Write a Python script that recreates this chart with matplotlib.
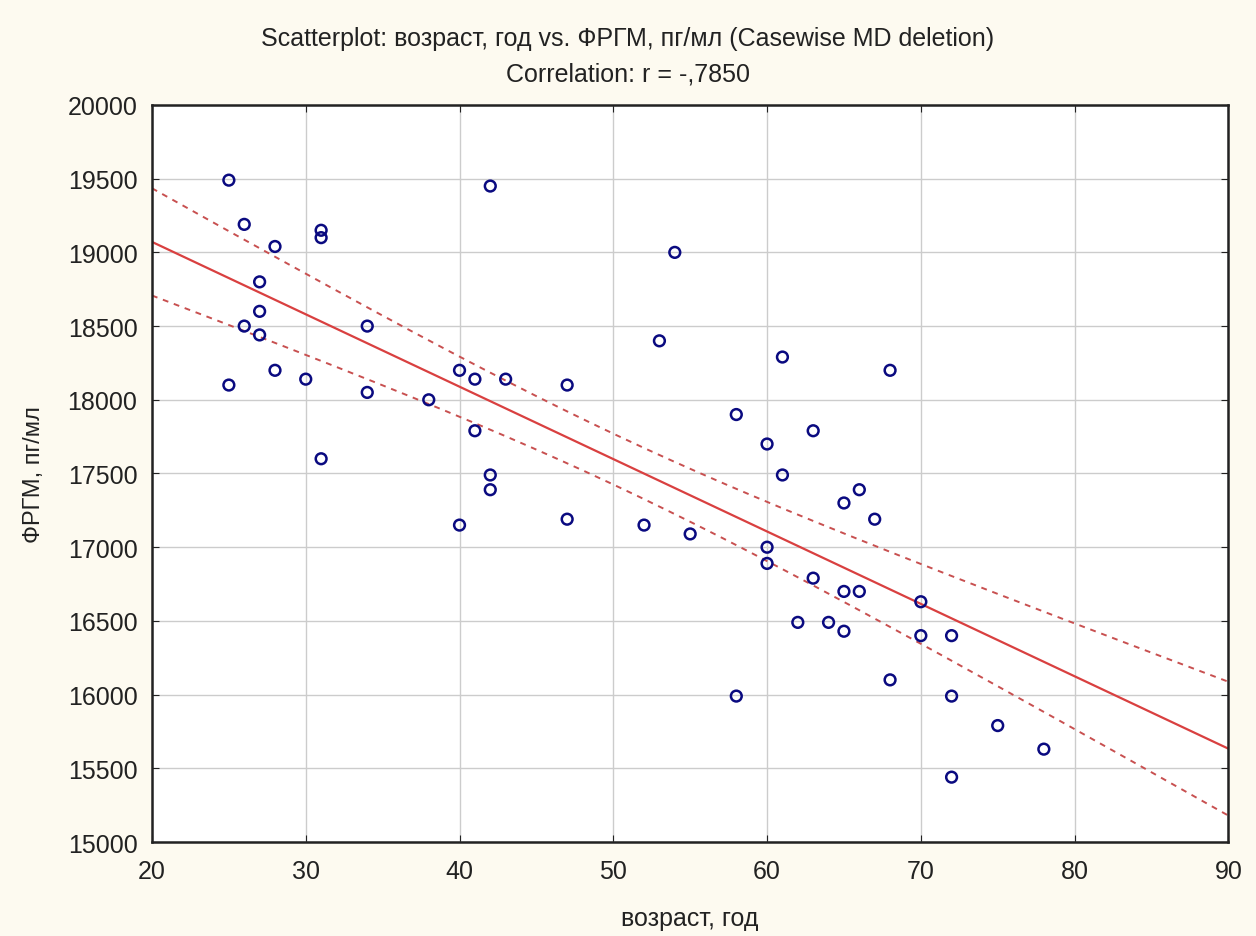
import numpy as np
import matplotlib
matplotlib.use('agg')
import matplotlib.pyplot as plt

# age (years) and FRGM (pg/ml)
age = [25, 26, 28, 31, 31, 27, 27, 26, 27, 34, 28, 30, 25, 34, 38, 31,
       42, 40, 41, 43, 47, 41, 42, 42, 40, 47, 52, 55, 54, 53,
       58, 58, 61, 60, 63, 61, 60, 60, 65, 66, 67, 68, 63, 65, 66,
       62, 64, 65, 70, 70, 72, 68, 72, 75, 78, 72]
frgm = [19490, 19190, 19040, 19150, 19100, 18800, 18600, 18500, 18440, 18500,
        18200, 18140, 18100, 18050, 18000, 17600,
        19450, 18200, 18140, 18140, 18100, 17790, 17490, 17390, 17150, 17190,
        17150, 17090, 19000, 18400,
        17900, 15990, 18290, 17700, 17790, 17490, 17000, 16890, 17300, 17390,
        17190, 18200, 16790, 16700, 16700, 16490, 16490, 16430, 16630, 16400,
        16400, 16100, 15990, 15790, 15630, 15440]

x_ticks = [20, 30, 40, 50, 60, 70, 80, 90]
y_ticks = [15000, 15500, 16000, 16500, 17000, 17500, 18000, 18500, 19000, 19500, 20000]
t_crit = 2.005  # 95%, df ~ 54

plt.rcParams['font.family'] = ['Liberation Sans', 'DejaVu Sans']

x = np.array(age, dtype=float)
y = np.array(frgm, dtype=float)
n = len(x)
slope, intercept = np.polyfit(x, y, 1)
r = np.corrcoef(x, y)[0, 1]
resid = y - (slope * x + intercept)
s_err = np.sqrt(np.sum(resid ** 2) / (n - 2))
xs = np.linspace(20, 90, 200)
ys = slope * xs + intercept
band = t_crit * s_err * np.sqrt(1 / n + (xs - x.mean()) ** 2 / np.sum((x - x.mean()) ** 2))

fig = plt.figure(figsize=(12.56, 9.37), dpi=100, facecolor='#fdfaf0')
ax = fig.add_axes([0.121, 0.1003, 0.857, 0.7866])
ax.set_facecolor('white')

ax.plot(xs, ys, color='#d94040', lw=1.6, zorder=2)
ax.plot(xs, ys + band, color='#c85050', lw=1.4, ls=(0, (3, 3)), zorder=2)
ax.plot(xs, ys - band, color='#c85050', lw=1.4, ls=(0, (3, 3)), zorder=2)
ax.scatter(x, y, s=60, facecolors='none', edgecolors='#0a0a80', linewidths=1.8, zorder=3)

ax.set_xlim(20, 90)
ax.set_ylim(15000, 20000)
ax.set_xticks(x_ticks)
ax.set_yticks(y_ticks)
ax.grid(True, color='#cccccc', lw=1.0)
ax.set_axisbelow(True)
ax.tick_params(direction='in', length=5, labelsize=18, colors='#222222')
ax.tick_params(axis='y', pad=10.5)
ax.tick_params(axis='x', pad=12)
ax.yaxis.set_ticks_position('both')
ax.xaxis.set_ticks_position('both')
for sp in ax.spines.values():
    sp.set_linewidth(1.8)
    sp.set_color('#222222')

ax.set_xlabel('возраст, год', fontsize=18, color='#222222', va='baseline')
ax.xaxis.set_label_coords(0.5, -0.1126)
ax.set_ylabel('ФРГМ, пг/мл', fontsize=17, color='#222222', va='center')
ax.yaxis.set_label_coords(-0.1097, 0.5)

r_txt = f'{r:.4f}'.replace('0.', ',')
fig.text(0.5, 0.951, 'Scatterplot: возраст, год vs. ФРГМ, пг/мл (Casewise MD deletion)',
         ha='center', va='baseline', fontsize=18, color='#222222')
fig.text(0.5, 0.9125, f'Correlation: r = {r_txt}', ha='center', va='baseline',
         fontsize=18, color='#222222')

fig.savefig('out.png', dpi=100, facecolor=fig.get_facecolor())
